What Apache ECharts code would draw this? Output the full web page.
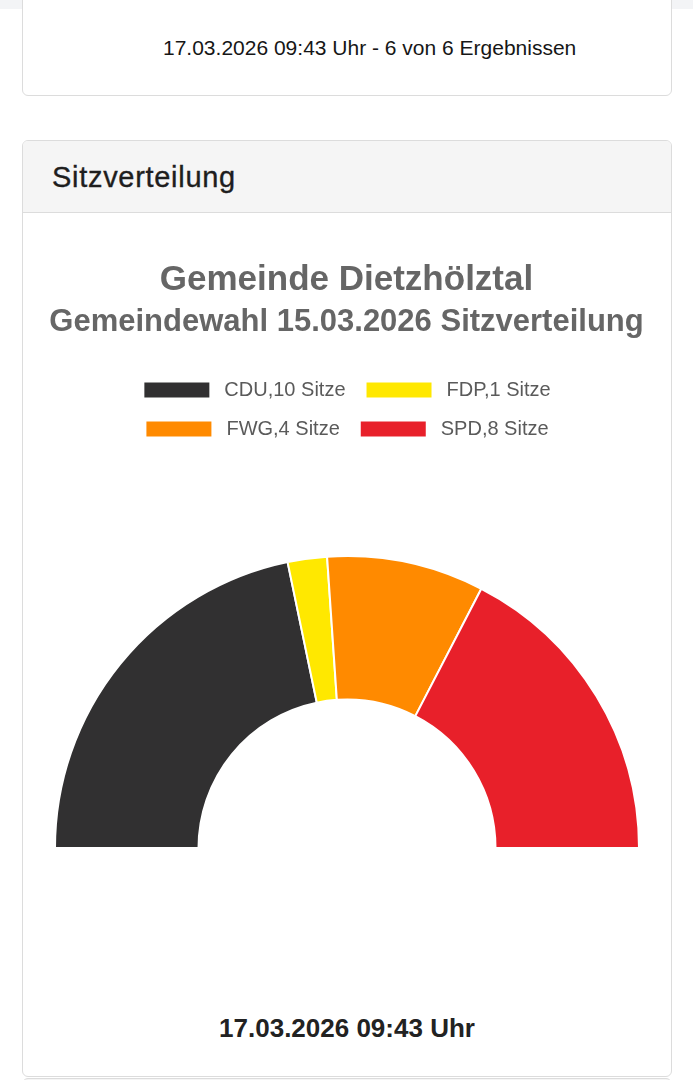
<!DOCTYPE html>
<html>
<head>
<meta charset="utf-8">
<script src="https://cdn.jsdelivr.net/npm/echarts@6/dist/echarts.min.js"></script>
<style>
  html, body { margin: 0; padding: 0; background: #ffffff; }
  body { width: 693px; height: 1080px; position: relative; overflow: hidden; font-family: "Liberation Sans", Arial, sans-serif; }
  .strip { position: absolute; left: 0; top: 0; width: 693px; height: 9px; background: #f3f4f6; }
  .card { position: absolute; left: 22px; width: 648px; border: 1px solid #dcdcdc; border-radius: 6px; background: #fff; box-sizing: content-box; }
  #card1 { top: -8px; height: 102px; }
  #card1 .txt { position: absolute; left: 140px; top: 43px; font-size: 21px; color: #161616; white-space: nowrap; }
  #card2 { top: 140px; height: 935px; overflow: hidden; }
  #card2 .hdr { position: absolute; left: 0; top: 0; width: 648px; height: 71px; background: #f5f5f5; border-bottom: 1px solid #dcdcdc; }
  #card2 .hdr span { position: absolute; left: 29px; top: 20px; font-size: 29px; letter-spacing: 0.7px; color: #1e1e1e; -webkit-text-stroke: 0.35px #1e1e1e; white-space: nowrap; }
  #card2 .foot { position: absolute; left: 0; width: 648px; top: 872px; text-align: center; font-size: 26px; font-weight: bold; color: #222; }
  #card3 { top: 1078px; height: 60px; background: #f5f5f5; }
  #chart { position: absolute; left: 0; top: 0; width: 693px; height: 1080px; }
</style>
</head>
<body>
<div class="strip"></div>
<div class="card" id="card1"><div class="txt">17.03.2026 09:43 Uhr - 6 von 6 Ergebnissen</div></div>
<div class="card" id="card2">
  <div class="hdr"><span>Sitzverteilung</span></div>
  <div class="foot">17.03.2026 09:43 Uhr</div>
</div>
<div class="card" id="card3"></div>
<div id="chart"></div>
<script>
const parties = ['CDU', 'FDP', 'FWG', 'SPD'];
const seats = [10, 1, 4, 8];
const colors = ['#313031', '#ffe800', '#ff8a00', '#e8202a'];
const titleLine1 = 'Gemeinde Dietzhölztal';
const titleLine2 = 'Gemeindewahl 15.03.2026 Sitzverteilung';
const legendRow1 = ['CDU', 'FDP'];
const legendRow2 = ['FWG', 'SPD'];

const chart = echarts.init(document.getElementById('chart'), null, { renderer: 'canvas' });

const seatOf = name => seats[parties.indexOf(name)];
const legendBase = {
  left: 'center',
  orient: 'horizontal',
  padding: 0,
  icon: 'rect',
  itemWidth: 67,
  itemHeight: 17,
  itemGap: 19,
  selectedMode: false,
  formatter: name => name + ',' + seatOf(name) + ' Sitze',
  textStyle: { fontFamily: 'Liberation Sans', fontSize: 20, color: '#5a5a5a', padding: [0, 0, 0, 9] }
};

chart.setOption({
  animation: false,
  title: [
    { text: titleLine1, left: 'center', top: 263, padding: 0,
      textStyle: { fontFamily: 'Liberation Sans', fontWeight: 'bold', fontSize: 35, color: '#666666' } },
    { text: titleLine2, left: 'center', top: 307, padding: 0,
      textStyle: { fontFamily: 'Liberation Sans', fontWeight: 'bold', fontSize: 31, color: '#666666' } }
  ],
  legend: [
    Object.assign({}, legendBase, { top: 380, data: legendRow1 }),
    Object.assign({}, legendBase, { top: 419, data: legendRow2 })
  ],
  series: [{
    type: 'pie',
    center: [347, 848],
    radius: [148.5, 292],
    startAngle: 180,
    endAngle: 0,
    clockwise: true,
    label: { show: false },
    labelLine: { show: false },
    emphasis: { disabled: true },
    itemStyle: { borderColor: '#ffffff', borderWidth: 2 },
    data: parties.map((p, i) => ({ name: p, value: seats[i], itemStyle: { color: colors[i] } }))
  }]
});
</script>
</body>
</html>
